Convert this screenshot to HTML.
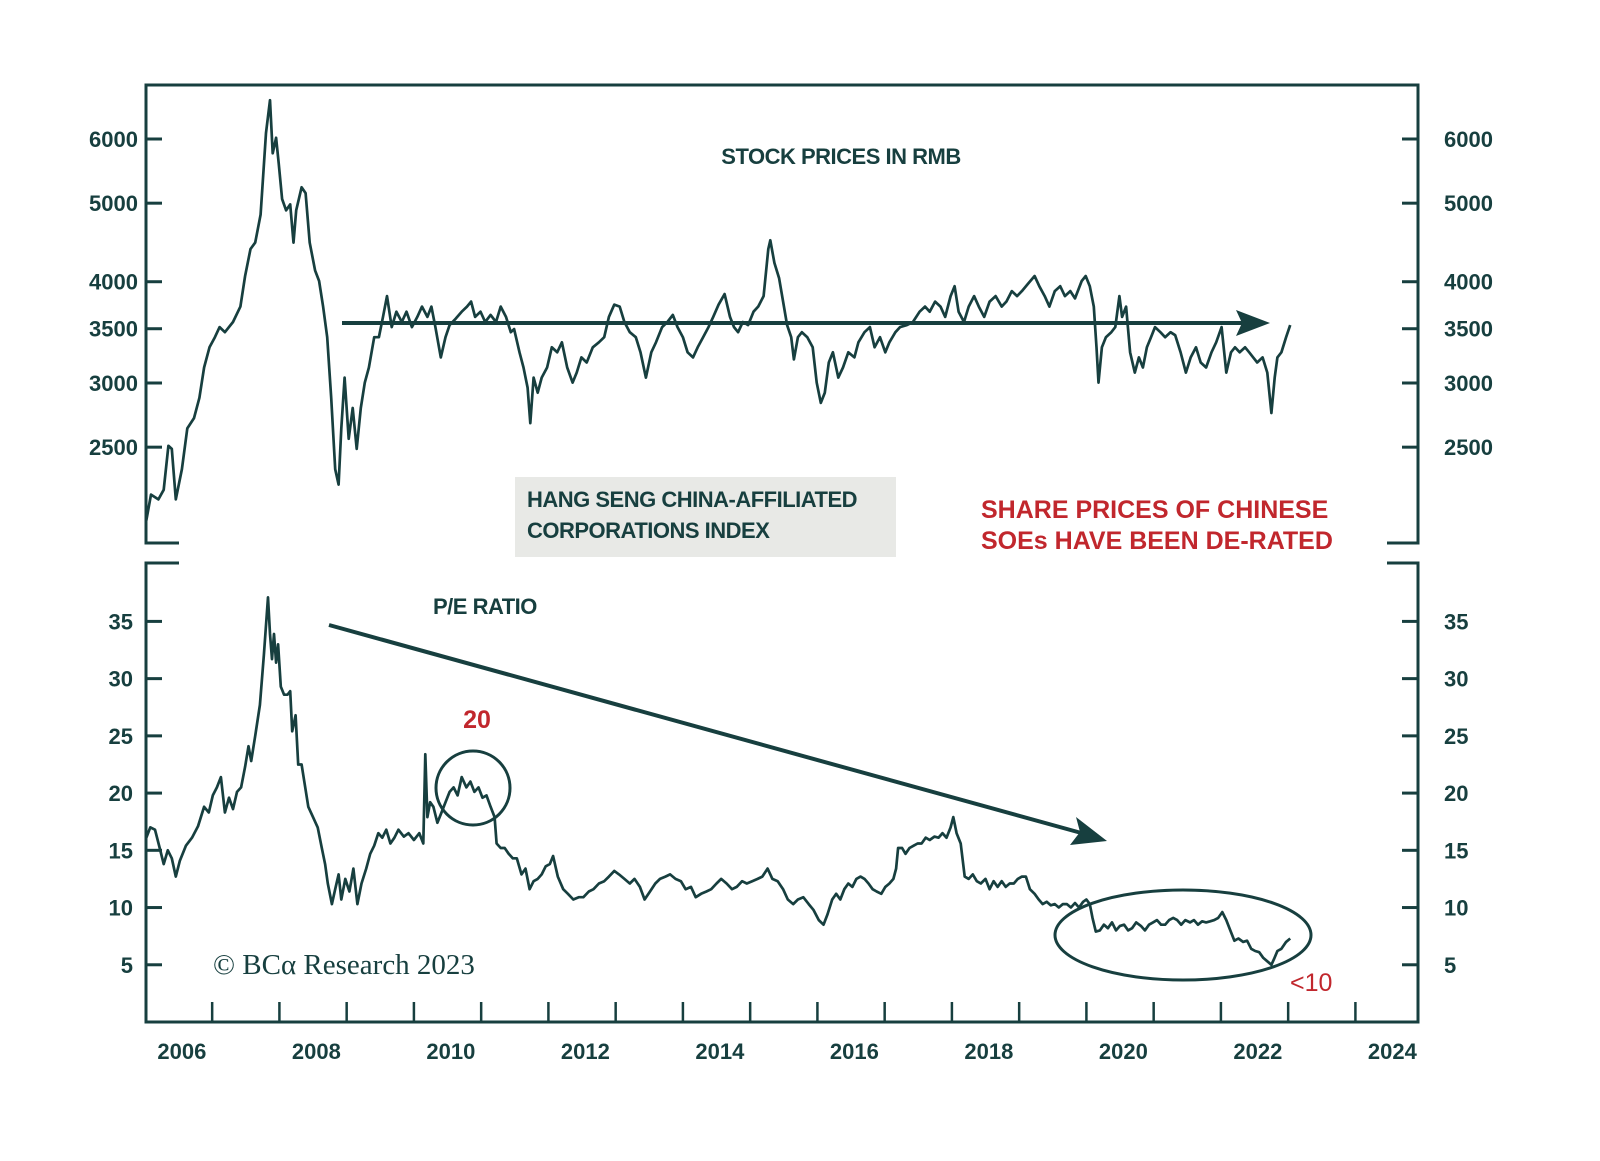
<!DOCTYPE html>
<html><head><meta charset="utf-8">
<style>
html,body{margin:0;padding:0;background:#fff;}
svg{display:block;font-family:"Liberation Sans",sans-serif;}
.tk{font-size:22px;font-weight:bold;fill:#173f3f;}
.lbl{font-size:22px;font-weight:bold;fill:#173f3f;letter-spacing:-0.5px;}
.red{font-size:25px;font-weight:bold;fill:#c1272d;letter-spacing:0px;}
</style></head>
<body>
<svg id="chart" width="1600" height="1161" viewBox="0 0 1600 1161">
<g id="frame" stroke="#173f3f" stroke-width="3" fill="none">
<polyline points="179,543 146,543 146,85 1418,85 1418,543 1387,543"/>
<polyline points="179,563 146,563 146,1022 1418,1022 1418,563 1387,563"/>
</g>
<g id="axes"></g>
<rect x="515" y="477" width="381" height="80" fill="#e8e9e6"/>
<text class="lbl" x="527" y="507">HANG SENG CHINA-AFFILIATED</text>
<text class="lbl" x="527" y="538">CORPORATIONS INDEX</text>
<text class="lbl" x="841" y="164" text-anchor="middle">STOCK PRICES IN RMB</text>
<text class="lbl" x="433" y="614">P/E RATIO</text>
<text class="red" x="981" y="518">SHARE PRICES OF CHINESE</text>
<text class="red" x="981" y="549">SOEs HAVE BEEN DE-RATED</text>
<text class="red" x="477" y="728" text-anchor="middle">20</text>
<text class="red" x="1290" y="991" style="font-weight:normal">&lt;10</text>
<text x="213" y="974" style="font-family:'Liberation Serif',serif;font-size:29px;fill:#173f3f">© BCα Research 2023</text>
<circle cx="473" cy="788" r="37" fill="none" stroke="#173f3f" stroke-width="3"/>
<ellipse cx="1183" cy="935" rx="128" ry="45" fill="none" stroke="#173f3f" stroke-width="3"/>
<g>
<line x1="342" y1="323" x2="1245" y2="323" stroke="#173f3f" stroke-width="4"/>
<polygon points="1270,323 1236,310 1242,323 1236,336" fill="#173f3f"/>
</g>
<g>
<line x1="329" y1="625" x2="1085" y2="834" stroke="#173f3f" stroke-width="4"/>
<polygon points="1107,841 1076,817 1080,832 1070,845" fill="#173f3f"/>
</g>
<path id="stockLine" fill="none" stroke="#173f3f" stroke-width="2.7" stroke-linejoin="round"/>
<path id="peLine" fill="none" stroke="#173f3f" stroke-width="2.7" stroke-linejoin="round"/>
</svg>
<script>
const stockDates=[2005.47,2005.54,2005.65,2005.73,2005.80,2005.85,2005.91,2006.00,2006.08,2006.18,2006.26,2006.33,2006.41,2006.49,2006.56,2006.64,2006.76,2006.87,2006.94,2007.02,2007.09,2007.17,2007.25,2007.31,2007.35,2007.40,2007.44,2007.49,2007.55,2007.61,2007.66,2007.70,2007.78,2007.84,2007.90,2007.98,2008.04,2008.10,2008.16,2008.22,2008.28,2008.33,2008.37,2008.42,2008.48,2008.54,2008.60,2008.66,2008.72,2008.78,2008.86,2008.93,2008.99,2009.05,2009.12,2009.19,2009.27,2009.34,2009.42,2009.50,2009.57,2009.65,2009.71,2009.77,2009.85,2009.92,2009.98,2010.07,2010.16,2010.24,2010.30,2010.36,2010.44,2010.51,2010.59,2010.67,2010.74,2010.82,2010.89,2010.94,2011.02,2011.08,2011.14,2011.18,2011.23,2011.29,2011.35,2011.43,2011.50,2011.58,2011.65,2011.73,2011.81,2011.87,2011.94,2012.02,2012.11,2012.20,2012.28,2012.35,2012.43,2012.51,2012.58,2012.66,2012.75,2012.82,2012.90,2012.98,2013.05,2013.14,2013.22,2013.30,2013.37,2013.45,2013.52,2013.60,2013.67,2013.75,2013.83,2013.90,2013.98,2014.07,2014.15,2014.21,2014.27,2014.34,2014.42,2014.50,2014.57,2014.65,2014.72,2014.75,2014.81,2014.88,2014.94,2015.00,2015.06,2015.10,2015.16,2015.22,2015.30,2015.38,2015.44,2015.50,2015.56,2015.62,2015.68,2015.76,2015.83,2015.91,2016.00,2016.06,2016.15,2016.23,2016.30,2016.38,2016.46,2016.52,2016.61,2016.68,2016.78,2016.87,2016.97,2017.05,2017.12,2017.20,2017.28,2017.35,2017.43,2017.49,2017.55,2017.63,2017.70,2017.78,2017.85,2017.93,2018.01,2018.10,2018.19,2018.26,2018.34,2018.42,2018.49,2018.58,2018.68,2018.75,2018.83,2018.90,2018.98,2019.06,2019.13,2019.21,2019.28,2019.38,2019.44,2019.50,2019.56,2019.60,2019.63,2019.68,2019.74,2019.82,2019.88,2019.94,2019.98,2020.04,2020.10,2020.17,2020.23,2020.29,2020.35,2020.41,2020.47,2020.55,2020.62,2020.70,2020.77,2020.85,2020.93,2021.00,2021.08,2021.15,2021.23,2021.31,2021.38,2021.46,2021.53,2021.60,2021.66,2021.73,2021.81,2021.87,2021.93,2021.99,2022.07,2022.14,2022.20,2022.25,2022.29,2022.35,2022.42,2022.48];
const stockValues=[2030,2185,2155,2215,2510,2488,2155,2348,2637,2715,2876,3135,3320,3417,3516,3466,3568,3727,4066,4390,4470,4840,6105,6700,5761,6020,5600,5060,4900,4982,4470,4900,5230,5145,4470,4130,4008,3727,3417,2876,2348,2248,2637,3046,2560,2794,2488,2794,3003,3135,3417,3417,3620,3840,3516,3673,3568,3673,3516,3620,3727,3620,3727,3516,3226,3417,3536,3600,3673,3727,3780,3620,3673,3568,3640,3568,3727,3620,3466,3496,3273,3135,2960,2676,3046,2918,3046,3135,3320,3273,3368,3135,3003,3090,3226,3180,3320,3368,3417,3620,3748,3727,3568,3466,3417,3273,3046,3273,3368,3516,3568,3640,3516,3417,3273,3226,3320,3417,3516,3620,3748,3862,3620,3516,3466,3568,3536,3673,3727,3840,4390,4500,4220,4040,3780,3536,3417,3208,3417,3466,3417,3320,3003,2835,2918,3180,3273,3046,3135,3273,3226,3368,3466,3516,3320,3417,3273,3368,3466,3516,3536,3568,3673,3727,3673,3780,3727,3620,3840,3950,3673,3568,3727,3840,3727,3620,3780,3840,3727,3780,3895,3840,3895,3975,4066,3950,3840,3727,3895,3950,3840,3895,3815,4008,4066,3950,3727,3320,3003,3320,3417,3466,3516,3840,3620,3727,3273,3090,3226,3135,3320,3417,3516,3466,3417,3466,3436,3273,3090,3226,3320,3180,3135,3273,3368,3516,3090,3273,3320,3273,3320,3273,3226,3180,3226,3090,2755,3046,3226,3273,3417,3536];
const peDates=[2005.47,2005.53,2005.60,2005.67,2005.73,2005.79,2005.85,2005.91,2005.97,2006.06,2006.15,2006.24,2006.33,2006.40,2006.46,2006.52,2006.58,2006.64,2006.70,2006.76,2006.82,2006.88,2006.94,2006.99,2007.03,2007.09,2007.16,2007.22,2007.28,2007.31,2007.34,2007.37,2007.40,2007.43,2007.47,2007.52,2007.57,2007.61,2007.64,2007.69,2007.73,2007.78,2007.82,2007.88,2007.95,2008.02,2008.08,2008.13,2008.17,2008.23,2008.28,2008.33,2008.37,2008.43,2008.49,2008.55,2008.61,2008.67,2008.74,2008.80,2008.86,2008.92,2008.98,2009.04,2009.10,2009.16,2009.22,2009.30,2009.37,2009.45,2009.53,2009.59,2009.62,2009.65,2009.69,2009.74,2009.80,2009.86,2009.92,2009.98,2010.04,2010.10,2010.16,2010.23,2010.29,2010.35,2010.41,2010.47,2010.53,2010.59,2010.65,2010.68,2010.74,2010.80,2010.86,2010.92,2010.98,2011.05,2011.11,2011.17,2011.23,2011.29,2011.35,2011.41,2011.47,2011.52,2011.59,2011.67,2011.74,2011.82,2011.90,2011.97,2012.05,2012.12,2012.20,2012.28,2012.35,2012.43,2012.50,2012.58,2012.66,2012.73,2012.81,2012.88,2012.96,2013.04,2013.11,2013.19,2013.26,2013.34,2013.42,2013.49,2013.57,2013.64,2013.72,2013.80,2013.87,2013.95,2014.02,2014.10,2014.18,2014.25,2014.33,2014.40,2014.48,2014.56,2014.63,2014.71,2014.78,2014.86,2014.94,2015.01,2015.09,2015.16,2015.24,2015.32,2015.39,2015.47,2015.54,2015.60,2015.67,2015.73,2015.79,2015.85,2015.91,2015.97,2016.03,2016.09,2016.15,2016.21,2016.27,2016.33,2016.40,2016.46,2016.52,2016.58,2016.62,2016.65,2016.71,2016.76,2016.82,2016.88,2016.94,2017.00,2017.06,2017.12,2017.19,2017.25,2017.31,2017.37,2017.43,2017.47,2017.52,2017.58,2017.64,2017.70,2017.76,2017.82,2017.88,2017.95,2018.01,2018.07,2018.13,2018.19,2018.25,2018.31,2018.37,2018.43,2018.49,2018.55,2018.61,2018.68,2018.74,2018.80,2018.86,2018.92,2018.98,2019.04,2019.10,2019.16,2019.22,2019.28,2019.34,2019.40,2019.45,2019.50,2019.54,2019.59,2019.65,2019.71,2019.77,2019.83,2019.89,2019.95,2020.01,2020.07,2020.13,2020.19,2020.26,2020.32,2020.38,2020.44,2020.50,2020.56,2020.62,2020.68,2020.74,2020.80,2020.86,2020.92,2020.99,2021.05,2021.11,2021.17,2021.23,2021.29,2021.35,2021.41,2021.47,2021.53,2021.59,2021.65,2021.71,2021.78,2021.84,2021.90,2021.96,2022.02,2022.08,2022.14,2022.20,2022.24,2022.29,2022.35,2022.42,2022.48];
const peValues=[16.1,17.0,16.8,15.2,13.8,15.0,14.3,12.7,14.1,15.4,16.1,17.1,18.8,18.3,19.8,20.5,21.4,18.3,19.6,18.6,20.1,20.5,22.3,24.1,22.8,25.0,27.7,32.1,37.1,33.9,31.7,33.9,31.4,33.0,29.3,28.6,28.6,28.9,25.4,26.8,22.5,22.5,21.0,18.8,17.9,17.0,15.2,13.8,12.1,10.3,11.6,12.9,10.7,12.5,11.4,13.4,10.3,12.1,13.4,14.7,15.4,16.5,16.1,16.8,15.6,16.1,16.8,16.2,16.5,15.9,16.5,15.6,23.4,17.9,19.2,18.8,17.4,18.3,19.2,20.1,20.5,19.8,21.4,20.5,21.0,20.1,20.5,19.6,19.8,18.8,17.9,15.6,15.2,15.2,14.7,14.3,14.3,12.9,13.4,11.6,12.3,12.5,12.9,13.6,13.8,14.5,12.7,11.6,11.2,10.7,10.9,10.9,11.4,11.6,12.1,12.3,12.7,13.2,12.9,12.5,12.1,12.5,11.8,10.7,11.4,12.1,12.5,12.7,12.9,12.5,12.3,11.6,11.8,10.9,11.2,11.4,11.6,12.1,12.5,12.1,11.6,11.8,12.3,12.1,12.3,12.5,12.7,13.4,12.5,12.3,11.6,10.7,10.3,10.7,10.9,10.3,9.8,8.9,8.5,9.4,10.7,11.2,10.7,11.6,12.1,11.8,12.5,12.7,12.5,12.1,11.6,11.4,11.2,11.8,12.1,12.5,13.4,15.2,15.2,14.7,15.2,15.4,15.6,15.6,16.1,15.9,16.2,16.1,16.5,16.1,17.0,17.9,16.5,15.6,12.7,12.5,12.9,12.3,12.1,12.5,11.6,12.3,11.8,12.3,11.8,12.1,12.1,12.5,12.7,12.7,11.6,11.2,10.7,10.3,10.5,10.2,10.3,10.0,10.3,10.3,10.0,10.4,10.0,10.5,10.7,10.3,9.1,7.9,8.0,8.5,8.2,8.7,8.0,8.4,8.5,8.0,8.2,8.7,8.4,8.0,8.5,8.7,8.9,8.5,8.5,8.9,9.1,8.9,8.5,8.9,8.7,8.9,8.5,8.8,8.7,8.8,8.9,9.1,9.6,8.9,8.0,7.1,7.3,7.0,7.1,6.4,6.2,6.1,5.6,5.3,5.0,5.5,6.2,6.4,7.0,7.3];
const stockTicks=[6000,5000,4000,3500,3000,2500];
const peTicks=[35,30,25,20,15,10,5];
const yearLabels=[2006,2008,2010,2012,2014,2016,2018,2020,2022,2024];
const yearTicks=[2006.45,2007.45,2008.45,2009.45,2010.45,2011.45,2012.45,2013.45,2014.45,2015.45,2016.45,2017.45,2018.45,2019.45,2020.45,2021.45,2022.45,2023.45];

const xScale=t=>181.9+(t-2006)*67.25;
const yStock=v=>139+352*Math.log(6000/v);
const yPE=v=>621.4+(35-v)*11.446;
const NS="http://www.w3.org/2000/svg";
const axes=document.getElementById('axes');
function mk(tag,attrs,txt){const e=document.createElementNS(NS,tag);for(const k in attrs)e.setAttribute(k,attrs[k]);if(txt!==undefined)e.textContent=txt;axes.appendChild(e);return e;}

stockTicks.forEach(v=>{
  const y=yStock(v);
  const a=mk('line',{x1:146,x2:162,y1:y,y2:y,stroke:'#173f3f','stroke-width':3});
  
  
  const b=mk('line',{x1:1402,x2:1418,y1:y,y2:y,stroke:'#173f3f','stroke-width':3});
  
  
  const l=mk('text',{x:138,y:y+8,'text-anchor':'end',class:'tk'},String(v));
  
  
  const r=mk('text',{x:1444,y:y+8,class:'tk'},String(v));
  
  
});
peTicks.forEach(v=>{
  const y=yPE(v);
  const a=mk('line',{x1:146,x2:162,y1:y,y2:y,stroke:'#173f3f','stroke-width':3});
  
  
  const b=mk('line',{x1:1402,x2:1418,y1:y,y2:y,stroke:'#173f3f','stroke-width':3});
  
  
  const l=mk('text',{x:133,y:y+8,'text-anchor':'end',class:'tk'},String(v));
  
  
  const r=mk('text',{x:1444,y:y+8,class:'tk'},String(v));
  
  
});
yearTicks.forEach(t=>{
  const x=xScale(t);
  const a=mk('line',{x1:x,x2:x,y1:1002,y2:1022,stroke:'#173f3f','stroke-width':2.5});
  
  
});
yearLabels.forEach(yr=>{
  const l=mk('text',{x:xScale(yr),y:1059,'text-anchor':'middle',class:'tk'},String(yr));
  
  
});
document.getElementById('stockLine').setAttribute('d',stockDates.map((t,i)=>(i?'L':'M')+xScale(t).toFixed(1)+','+yStock(stockValues[i]).toFixed(1)).join(''));
document.getElementById('peLine').setAttribute('d',peDates.map((t,i)=>(i?'L':'M')+xScale(t).toFixed(1)+','+yPE(peValues[i]).toFixed(1)).join(''));
</script>
</body></html>
